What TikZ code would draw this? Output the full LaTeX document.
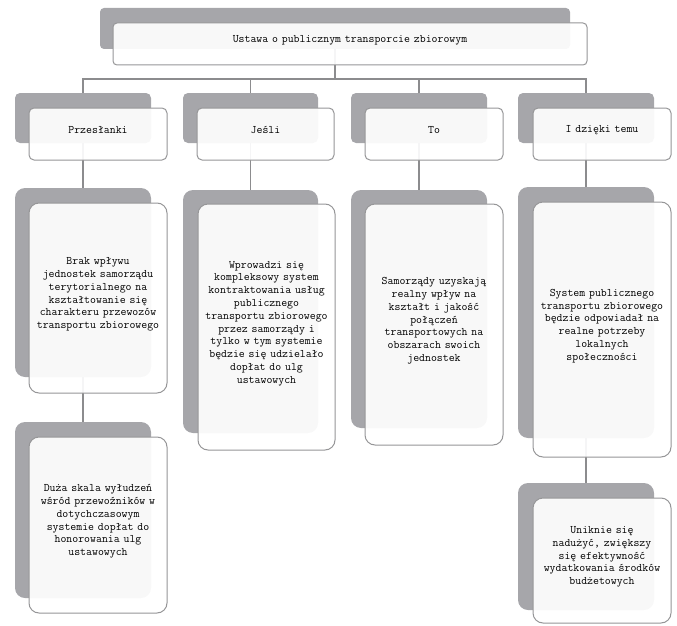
\documentclass[tikz,border=0pt]{standalone}
\usepackage{fontspec}
\usetikzlibrary{fit}
\definecolor{boxgray}{RGB}{166,166,170}
\definecolor{edgegray}{RGB}{150,150,152}
\definecolor{linegray}{RGB}{140,140,142}
\tikzset{
  backbox/.style={fit={#1}, inner sep=0pt, outer sep=0pt, fill=boxgray, draw=none},
  frontbox/.style={fit={#1}, inner sep=0pt, outer sep=0pt, fill=white, fill opacity=0.92,
    draw=edgegray, draw opacity=1, text opacity=1, line width=1pt, align=center,
    font=\ttfamily\fontsize{11.5}{12.8}\selectfont},
  smallr/.style={rounded corners=5pt},
  bigr/.style={rounded corners=10pt},
  conn/.style={draw=linegray, line width=1.1pt}
}
\begin{document}
\begin{tikzpicture}[x=1pt,y=-1pt]
\useasboundingbox (0,0) rectangle (677,626);
% back (gray) boxes
\node[backbox={(100,8) (570,49)}, rounded corners=4pt] (topg) {};
\node[backbox={(15,93) (151,143)}, smallr] (h1g) {};
\node[backbox={(183,93) (318,143)}, smallr] (h2g) {};
\node[backbox={(351,93) (487,143)}, smallr] (h3g) {};
\node[backbox={(518,93) (654,143)}, smallr] (h4g) {};
\node[backbox={(15,188) (151,377)}, bigr] (a1g) {};
\node[backbox={(183,190) (318,433)}, bigr] (a2g) {};
\node[backbox={(351,190) (487,428)}, bigr] (a3g) {};
\node[backbox={(518,187) (654,438)}, bigr] (a4g) {};
\node[backbox={(15,422) (151,598)}, bigr] (b1g) {};
\node[backbox={(518,483) (654,610)}, bigr] (b4g) {};
% connectors
\coordinate (bus) at (335,79);
\draw[conn] (topg.south) -- (bus);
\draw[conn] (h1g.north) -- (h1g.north |- bus) -- (h4g.north |- bus) -- (h4g.north);
\draw[conn] (h2g.north) -- (h2g.north |- bus);
\draw[conn] (h3g.north) -- (h3g.north |- bus);
\draw[conn] (h1g.south) -- (a1g.north);
\draw[conn] (h2g.south) -- (a2g.north);
\draw[conn] (h3g.south) -- (a3g.north);
\draw[conn] (h4g.south) -- (a4g.north);
\draw[conn] (a1g.south) -- (b1g.north);
\draw[conn] (a4g.south) -- (b4g.north);
% front (white) boxes
\node[frontbox={(113,23) (587,65)}, rounded corners=4pt] (top) {Ustawa o publicznym transporcie zbiorowym};
\node[frontbox={(29,108) (167,160)}, smallr] (h1) {Przesłanki};
\node[frontbox={(197,108) (334,160)}, smallr] (h2) {Jeśli};
\node[frontbox={(365,108) (503,160)}, smallr] (h3) {To};
\node[frontbox={(533,108) (671,160)}, smallr] (h4) {I dzięki temu};
\node[frontbox={(29,203) (167,393)}, bigr] (a1) {Brak wpływu\\jednostek samorządu\\terytorialnego na\\kształtowanie się\\charakteru przewozów\\transportu zbiorowego};
\node[frontbox={(198,204) (335,450)}, bigr] (a2) {Wprowadzi się\\kompleksowy system\\kontraktowania usług\\publicznego\\transportu zbiorowego\\przez samorządy i\\tylko w tym systemie\\będzie się udzielało\\dopłat do ulg\\ustawowych};
\node[frontbox={(365,204) (503,445)}, bigr] (a3) {Samorządy uzyskają\\realny wpływ na\\kształt i jakość\\połączeń\\transportowych na\\obszarach swoich\\jednostek};
\node[frontbox={(533,202) (671,457)}, bigr] (a4) {System publicznego\\transportu zbiorowego\\będzie odpowiadał na\\realne potrzeby\\lokalnych\\społeczności};
\node[frontbox={(29,437) (167,613)}, bigr] (b1) {Duża skala wyłudzeń\\wśród przewoźników w\\dotychczasowym\\systemie dopłat do\\honorowania ulg\\ustawowych};
\node[frontbox={(533,498) (671,623)}, bigr] (b4) {Uniknie się\\nadużyć, zwiększy\\się efektywność\\wydatkowania środków\\budżetowych};
\end{tikzpicture}
\end{document}
